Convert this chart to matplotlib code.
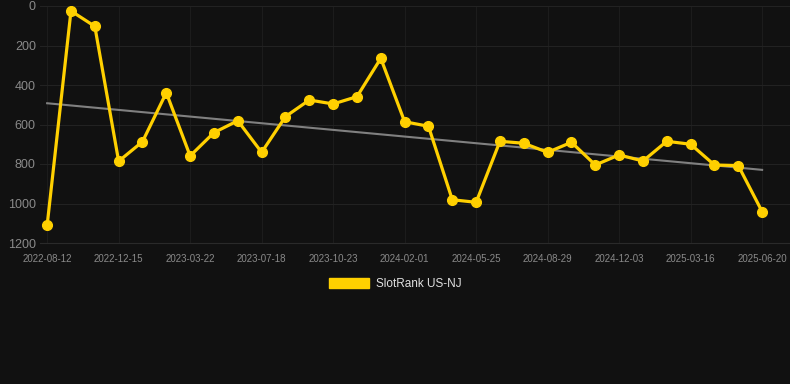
import numpy as np
import matplotlib.pyplot as plt
from matplotlib.patches import Patch

# Значения ранга (меньше = лучше), по точкам слева направо
rank = [1110, 25, 103, 786, 687, 439, 759, 641, 581, 741, 560, 476, 496, 459, 265,
        586, 609, 981, 994, 685, 695, 741, 690, 805, 754, 785, 685, 700, 805, 808, 1041]

# Подписи оси X (каждая третья точка)
tick_labels = ["2022-08-12", "2022-12-15", "2023-03-22", "2023-07-18", "2023-10-23",
               "2024-02-01", "2024-05-25", "2024-08-29", "2024-12-03", "2025-03-16",
               "2025-06-20"]
y_ticks = [0, 200, 400, 600, 800, 1000, 1200]

bg = "#111111"
gold = "#FFD000"

plt.rcParams['font.family'] = ['Liberation Sans', 'DejaVu Sans']

fig = plt.figure(figsize=(7.9, 3.84), dpi=100, facecolor=bg)
ax = fig.add_axes([40 / 790, 1 - 243 / 384, 1 - 40 / 790, 237 / 384])
ax.set_facecolor(bg)

x = np.arange(len(rank))

# Линия тренда
k, b = np.polyfit(x, rank, 1)
ax.plot(x, k * x + b, color="#808080", linewidth=1.5, zorder=2)

# Основная линия
ax.plot(x, rank, color=gold, linewidth=2.3, marker="o", markersize=7,
        markerfacecolor=gold, markeredgecolor=gold, zorder=3)

ax.set_xlim(-0.3, len(rank) - 1 + 1.17)
ax.set_ylim(1200, 0)
ax.set_yticks(y_ticks)
ax.set_xticks(x[::3])
ax.set_xticklabels(tick_labels)

ax.grid(True, axis="y", color="#222222", linewidth=0.8)
ax.grid(True, axis="x", color="#1c1c1c", linewidth=0.8)
ax.set_axisbelow(True)
for s in ax.spines.values():
    s.set_visible(False)
ax.spines["bottom"].set_visible(True)
ax.spines["bottom"].set_color("#2a2a2a")
ax.tick_params(axis="x", length=0, pad=8, labelsize=7, labelcolor="#8a8a8a")
ax.tick_params(axis="y", length=0, pad=3, labelsize=9, labelcolor="#8a8a8a")

handle = Patch(facecolor=gold, edgecolor=gold)
fig.legend([handle], ["SlotRank US-NJ"], loc="center", bbox_to_anchor=(0.5, 1 - 284 / 384),
           frameon=False, fontsize=8.5, labelcolor="#e0e0e0",
           handlelength=3.4, handleheight=1.0, handletextpad=0.6)

fig.savefig("out.png", dpi=100, facecolor=bg)
